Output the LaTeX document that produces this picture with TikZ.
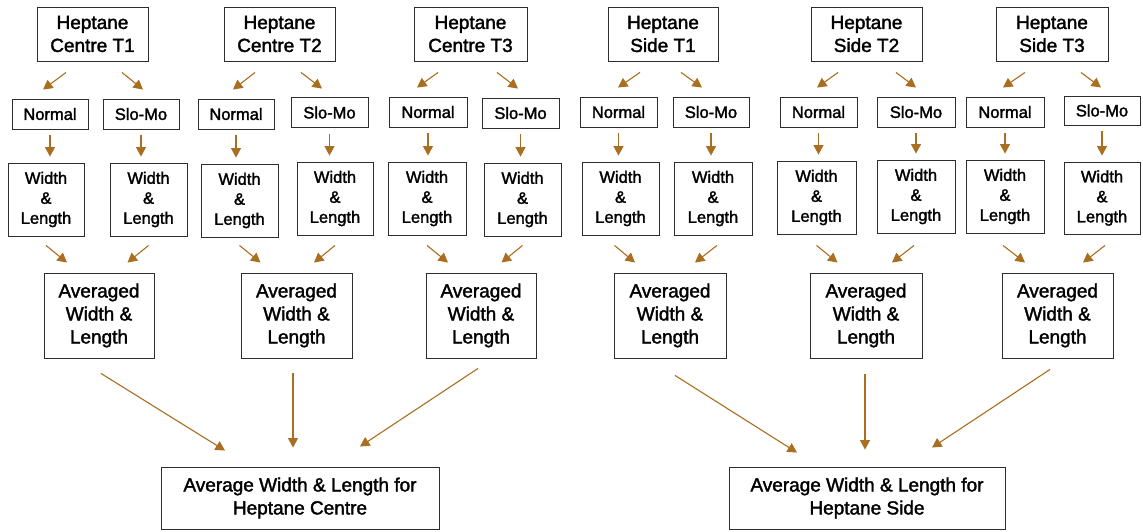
\documentclass[tikz,border=0pt]{standalone}
\usepackage{fontspec}
\setmainfont{Liberation Sans}[FakeBold=1.8]
\usetikzlibrary{arrows.meta}
\definecolor{arrc}{RGB}{170,110,32}
\definecolor{boxc}{RGB}{45,45,45}
\begin{document}
\begin{tikzpicture}[x=1pt,y=-1pt,
  box/.style={draw=boxc, line width=0.9pt, inner sep=0pt, align=center, text=black},
  big/.style={box, font=\fontsize{19}{23}\selectfont},
  small/.style={box, font=\fontsize{16.5}{20}\selectfont},
  topbox/.style={big, minimum width=111pt, minimum height=54pt},
  modebox/.style={small, minimum width=77pt, minimum height=30pt},
  wlbox/.style={small, minimum width=77pt, minimum height=73pt},
  avgbox/.style={big, minimum width=111pt, minimum height=85pt},
  finalbox/.style={big, minimum width=277pt, minimum height=62pt},
  arr/.style={draw=arrc, line width=1.1pt, -{Triangle[length=9.5pt,width=10pt]}}]
\useasboundingbox (0,0) rectangle (1143,532);
\fill[white] (0,0) rectangle (1143,532);

% top row
\node[topbox] (cT1) at (92.5,34) {Heptane\\Centre T1};
\node[topbox] (cT2) at (279.5,34) {Heptane\\Centre T2};
\node[topbox, minimum width=113pt] (cT3) at (470.5,34) {Heptane\\Centre T3};
\node[topbox, minimum width=110pt] (sT1) at (663,34) {Heptane\\Side T1};
\node[topbox] (sT2) at (866.5,34) {Heptane\\Side T2};
\node[topbox, minimum width=112pt] (sT3) at (1052,34) {Heptane\\Side T3};

% mode row
\node[modebox, minimum width=76pt] (cT1N) at (50,114) {Normal};
\node[modebox, minimum width=76pt] (cT1S) at (141,114) {Slo-Mo};
\node[modebox, minimum width=76pt] (cT2N) at (236,114) {Normal};
\node[modebox] (cT2S) at (329.5,112.5) {Slo-Mo};
\node[modebox, minimum width=78pt] (cT3N) at (428,112) {Normal};
\node[modebox] (cT3S) at (520.5,113) {Slo-Mo};
\node[modebox] (sT1N) at (618.5,112) {Normal};
\node[modebox, minimum width=76pt] (sT1S) at (711,112) {Slo-Mo};
\node[modebox] (sT2N) at (818.5,112) {Normal};
\node[modebox, minimum width=78pt] (sT2S) at (916,112) {Slo-Mo};
\node[modebox, minimum width=78pt] (sT3N) at (1005,112) {Normal};
\node[modebox, minimum width=76pt, minimum height=29pt] (sT3S) at (1102,110.5) {Slo-Mo};

% width & length row
\node[wlbox, minimum width=76pt] (cT1W) at (46,199.5) {Width\\\&\\Length};
\node[wlbox] (cT1V) at (148.5,199.5) {Width\\\&\\Length};
\node[wlbox] (cT2W) at (239.5,200.5) {Width\\\&\\Length};
\node[wlbox, minimum width=76pt] (cT2V) at (335,198.5) {Width\\\&\\Length};
\node[wlbox, minimum width=78pt] (cT3W) at (427,198.5) {Width\\\&\\Length};
\node[wlbox] (cT3V) at (522.5,199.5) {Width\\\&\\Length};
\node[wlbox] (sT1W) at (620.5,198.5) {Width\\\&\\Length};
\node[wlbox, minimum width=78pt] (sT1V) at (713,198.5) {Width\\\&\\Length};
\node[wlbox, minimum width=79pt] (sT2W) at (816.5,197.5) {Width\\\&\\Length};
\node[wlbox, minimum width=78pt] (sT2V) at (916,196.5) {Width\\\&\\Length};
\node[wlbox, minimum width=78pt] (sT3W) at (1005,196.5) {Width\\\&\\Length};
\node[wlbox, minimum width=76pt, minimum height=72pt] (sT3V) at (1102,198) {Width\\\&\\Length};

% averaged row
\node[avgbox, minimum width=110pt] (cA1) at (99,315.5) {Averaged\\Width \&\\Length};
\node[avgbox] (cA2) at (296.5,315.5) {Averaged\\Width \&\\Length};
\node[avgbox, minimum width=110pt] (cA3) at (481,315.5) {Averaged\\Width \&\\Length};
\node[avgbox, minimum width=112pt] (sA1) at (670,315.5) {Averaged\\Width \&\\Length};
\node[avgbox, minimum width=112pt] (sA2) at (866,315.5) {Averaged\\Width \&\\Length};
\node[avgbox] (sA3) at (1057.5,315.5) {Averaged\\Width \&\\Length};

% final row
\node[finalbox, minimum width=278pt] (cB) at (300,498) {Average Width \& Length for\\Heptane Centre};
\node[finalbox, minimum width=276pt] (sB) at (867,498) {Average Width \& Length for\\Heptane Side};

% top -> mode arrows
\draw[arr] ([shift={(-26.5,11)}]cT1.south) -- ([shift={(-7,-9)}]cT1N.north);
\draw[arr] ([shift={(29.5,11)}]cT1.south) -- ([shift={(2,-9)}]cT1S.north);
\draw[arr] ([shift={(-24.5,11)}]cT2.south) -- ([shift={(-3,-9)}]cT2N.north);
\draw[arr] ([shift={(21.5,11)}]cT2.south) -- ([shift={(-7.5,-8.5)}]cT2S.north);
\draw[arr] ([shift={(-32.5,11)}]cT3.south) -- ([shift={(-11,-9)}]cT3N.north);
\draw[arr] ([shift={(26.5,11)}]cT3.south) -- ([shift={(-2.5,-9)}]cT3S.north);
\draw[arr] ([shift={(-23,11)}]sT1.south) -- ([shift={(-0.5,-9)}]sT1N.north);
\draw[arr] ([shift={(18,11)}]sT1.south) -- ([shift={(-9,-9)}]sT1S.north);
\draw[arr] ([shift={(-28.5,11)}]sT2.south) -- ([shift={(-1.5,-9)}]sT2N.north);
\draw[arr] ([shift={(29.5,11)}]sT2.south) -- ([shift={(0,-9)}]sT2S.north);
\draw[arr] ([shift={(-27,11)}]sT3.south) -- ([shift={(-2,-9)}]sT3N.north);
\draw[arr] ([shift={(29,11)}]sT3.south) -- ([shift={(-1,-8)}]sT3S.north);

% mode -> width & length arrows
\foreach \m/\w in {cT1N/cT1W, cT1S/cT1V, cT2N/cT2W, cT2S/cT2V, cT3N/cT3W, cT3S/cT3V,
                   sT1N/sT1W, sT1S/sT1V, sT2N/sT2W, sT2S/sT2V, sT3N/sT3W, sT3S/sT3V}
  \draw[arr, shorten >=6pt] ([shift={(0,6)}]\m.south) -- (\m.south |- \w.north);

% width & length -> averaged arrows
\draw[arr] ([shift={(0,9)}]cT1W.south) -- ([shift={(-32,-10)}]cA1.north);
\draw[arr] ([shift={(0,9)}]cT1V.south) -- ([shift={(28.5,-10)}]cA1.north);
\draw[arr] ([shift={(0,8)}]cT2W.south) -- ([shift={(-36,-10)}]cA2.north);
\draw[arr] ([shift={(0,10)}]cT2V.south) -- ([shift={(17.5,-10)}]cA2.north);
\draw[arr] ([shift={(0,10)}]cT3W.south) -- ([shift={(-33,-10)}]cA3.north);
\draw[arr] ([shift={(0,9)}]cT3V.south) -- ([shift={(20.5,-10)}]cA3.north);
\draw[arr] ([shift={(-6,10)}]sT1W.south) -- ([shift={(-35,-10)}]sA1.north);
\draw[arr] ([shift={(4,10)}]sT1V.south) -- ([shift={(25,-10)}]sA1.north);
\draw[arr] ([shift={(0,11)}]sT2W.south) -- ([shift={(-28.5,-10)}]sA2.north);
\draw[arr] ([shift={(-2,12)}]sT2V.south) -- ([shift={(26,-10)}]sA2.north);
\draw[arr] ([shift={(-2,12)}]sT3W.south) -- ([shift={(-32.5,-10)}]sA3.north);
\draw[arr] ([shift={(3,11)}]sT3V.south) -- ([shift={(25.5,-10)}]sA3.north);

% averaged -> final arrows
\draw[arr] ([shift={(2,15)}]cA1.south) -- ([shift={(-75,-16)}]cB.north);
\draw[arr] ([shift={(-3.5,15)}]cA2.south) -- ([shift={(-7,-19)}]cB.north);
\draw[arr] ([shift={(-3,10)}]cA3.south) -- ([shift={(60,-20)}]cB.north);
\draw[arr] ([shift={(5,17)}]sA1.south) -- ([shift={(-70,-14)}]sB.north);
\draw[arr] ([shift={(-1,16)}]sA2.south) -- ([shift={(-2,-17)}]sB.north);
\draw[arr] ([shift={(-7.5,11)}]sA3.south) -- ([shift={(65,-19)}]sB.north);
\end{tikzpicture}
\end{document}
